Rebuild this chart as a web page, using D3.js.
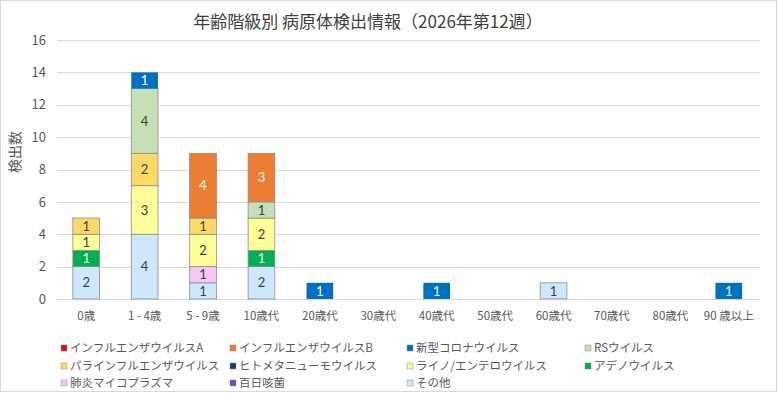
<!DOCTYPE html>
<html><head><meta charset="utf-8">
<script src="https://cdn.jsdelivr.net/npm/d3@7"></script>
<style>body{margin:0;background:#fff}svg{display:block;font-family:"Noto Sans CJK JP","Noto Sans",sans-serif}</style>
</head><body>
<svg id="c" width="778" height="395"></svg>
<script>
const categories = ["0歳","1 - 4歳","5 - 9歳","10歳代","20歳代","30歳代","40歳代","50歳代","60歳代","70歳代","80歳代","90 歳以上"];
const seriesNames = ["インフルエンザウイルスA","インフルエンザウイルスB","新型コロナウイルス","RSウイルス","パラインフルエンザウイルス","ヒトメタニューモウイルス","ライノ/エンテロウイルス","アデノウイルス","肺炎マイコプラズマ","百日咳菌","その他"];
const seriesColors = ["#e00b0b","#ed7d31","#0070c0","#c5e0b4","#ffd966","#203864","#ffff99","#00b050","#f6c8f6","#7b3fd4","#cde8fa"];
const labelColors = ["#fff","#fff","#fff","#404040","#404040","#fff","#404040","#fff","#404040","#fff","#404040"];
// values per series, by category
const fluA   = [0,0,0,0,0,0,0,0,0,0,0,0];
const fluB   = [0,0,4,3,0,0,0,0,0,0,0,0];
const covid  = [0,1,0,0,1,0,1,0,0,0,0,1];
const rsv    = [0,4,0,1,0,0,0,0,0,0,0,0];
const para   = [1,2,1,0,0,0,0,0,0,0,0,0];
const hmpv   = [0,0,0,0,0,0,0,0,0,0,0,0];
const rhino  = [1,3,2,2,0,0,0,0,0,0,0,0];
const adeno  = [1,0,0,1,0,0,0,0,0,0,0,0];
const myco   = [0,0,1,0,0,0,0,0,0,0,0,0];
const pert   = [0,0,0,0,0,0,0,0,0,0,0,0];
const other  = [2,4,1,2,0,0,0,0,1,0,0,0];
const yTicks = [0,2,4,6,8,10,12,14,16];
const seriesValues = [fluA,fluB,covid,rsv,para,hmpv,rhino,adeno,myco,pert,other];

const svg = d3.select("#c");
svg.append("rect").attr("x",0.5).attr("y",0.5).attr("width",776).attr("height",391)
  .attr("fill","#fff").attr("stroke","#d9d9d9");

const x = d3.scaleBand().domain(categories).range([57,758]).paddingInner(0.543).paddingOuter(0.2715);
const y = d3.scaleLinear().domain([0,16]).range([299,40]);

// grid
svg.append("g").selectAll("line").data(yTicks).join("line")
  .attr("x1",57).attr("x2",760).attr("y1",d=>Math.round(y(d))+0.5).attr("y2",d=>Math.round(y(d))+0.5)
  .attr("stroke","#d9d9d9").attr("stroke-width",1);

// y axis labels
const ya = svg.append("g").attr("transform","translate(46,0)")
  .call(d3.axisLeft(y).tickValues(yTicks).tickSize(0).tickPadding(0));
ya.select(".domain").remove();
ya.selectAll("text").attr("font-size",13).attr("fill","#595959").attr("font-family","'Noto Sans CJK JP',sans-serif");

// x axis labels
const xa = svg.append("g").attr("transform","translate(0,299)")
  .call(d3.axisBottom(x).tickSize(0).tickPadding(13));
xa.select(".domain").remove();
xa.selectAll("text").attr("font-size",11.5).attr("fill","#595959").attr("font-family","'Noto Sans CJK JP',sans-serif");

// stacked data: bottom is last series
const rows = categories.map((c,i)=>{const o={cat:c}; seriesNames.forEach((s,j)=>o[s]=seriesValues[j][i]); return o;});
const stackOrder = seriesNames.slice().reverse();
const stack = d3.stack().keys(stackOrder)(rows);

const gBars = svg.append("g");
stack.forEach(layer=>{
  const si = seriesNames.indexOf(layer.key);
  layer.forEach(d=>{
    const v = d[1]-d[0];
    if(v<=0) return;
    const cat = d.data.cat;
    const x0 = x(cat), w = x.bandwidth();
    const y0 = y(d[1]), h = y(d[0])-y(d[1]);
    gBars.append("rect").attr("x",x0).attr("y",y0).attr("width",w).attr("height",h)
      .attr("fill",seriesColors[si]).attr("stroke", si===2 ? "none" : "#8c8c8c").attr("stroke-width",0.8);
    gBars.append("text").attr("x",x0+w/2).attr("y",y0+h/2).attr("dy","0.36em")
      .attr("text-anchor","middle").attr("font-family","Lato,'Liberation Sans',sans-serif")
      .attr("font-size",13).attr("fill",labelColors[si]).text(v);
  });
});

// title
svg.append("text").attr("x",368).attr("y",28).attr("text-anchor","middle")
  .attr("font-size",17).attr("fill","#404040").text("年齢階級別 病原体検出情報（2026年第12週）");

// y title
svg.append("text").attr("transform","translate(20,152) rotate(-90)").attr("text-anchor","middle")
  .attr("font-size",14).attr("fill","#595959").text("検出数");

// legend
const colX = [61,230,407,585], rowY = [348,366,383];
const lg = svg.append("g");
seriesNames.forEach((s,i)=>{
  const r = Math.floor(i/4), c = i%4;
  const g = lg.append("g").attr("transform",`translate(${colX[c]},${rowY[r]})`);
  g.append("rect").attr("x",0).attr("y",-3).attr("width",6).attr("height",6)
    .attr("fill",seriesColors[i]).attr("stroke","#8c8c8c").attr("stroke-width",0.5);
  g.append("text").attr("x",9).attr("y",0).attr("dy","0.36em").attr("font-size",11.5)
    .attr("fill","#595959").text(s);
});
</script>
</body></html>
